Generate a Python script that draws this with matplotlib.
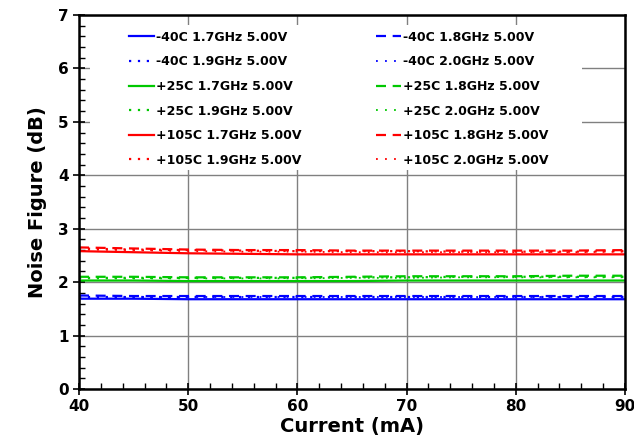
import matplotlib
matplotlib.use("Agg")
import matplotlib.pyplot as plt
from matplotlib.ticker import MultipleLocator
from matplotlib.patches import Rectangle

current = [40, 45, 50, 55, 60, 65, 70, 75, 80, 85, 90]

labels = [
    "-40C 1.7GHz 5.00V", "-40C 1.8GHz 5.00V", "-40C 1.9GHz 5.00V", "-40C 2.0GHz 5.00V",
    "+25C 1.7GHz 5.00V", "+25C 1.8GHz 5.00V", "+25C 1.9GHz 5.00V", "+25C 2.0GHz 5.00V",
    "+105C 1.7GHz 5.00V", "+105C 1.8GHz 5.00V", "+105C 1.9GHz 5.00V", "+105C 2.0GHz 5.00V",
]

m40_17 = [1.69, 1.69, 1.68, 1.68, 1.68, 1.68, 1.68, 1.68, 1.68, 1.68, 1.68]
m40_18 = [1.75, 1.74, 1.74, 1.74, 1.74, 1.74, 1.74, 1.74, 1.74, 1.74, 1.74]
m40_19 = [1.73, 1.73, 1.73, 1.73, 1.73, 1.73, 1.73, 1.73, 1.73, 1.73, 1.73]
m40_20 = [1.72, 1.72, 1.72, 1.72, 1.72, 1.72, 1.72, 1.72, 1.72, 1.72, 1.72]
p25_17 = [2.03, 2.03, 2.02, 2.02, 2.02, 2.02, 2.03, 2.03, 2.03, 2.03, 2.03]
p25_18 = [2.10, 2.10, 2.09, 2.09, 2.09, 2.10, 2.11, 2.11, 2.11, 2.12, 2.12]
p25_19 = [2.08, 2.08, 2.08, 2.08, 2.08, 2.09, 2.09, 2.10, 2.10, 2.10, 2.10]
p25_20 = [2.07, 2.07, 2.07, 2.07, 2.07, 2.08, 2.08, 2.09, 2.09, 2.09, 2.09]
p105_17 = [2.58, 2.56, 2.54, 2.53, 2.52, 2.52, 2.52, 2.52, 2.52, 2.52, 2.52]
p105_18 = [2.65, 2.63, 2.61, 2.60, 2.60, 2.59, 2.59, 2.59, 2.59, 2.59, 2.60]
p105_19 = [2.63, 2.61, 2.60, 2.59, 2.58, 2.58, 2.58, 2.57, 2.57, 2.57, 2.58]
p105_20 = [2.61, 2.60, 2.58, 2.57, 2.57, 2.56, 2.56, 2.56, 2.56, 2.56, 2.57]

series = [m40_17, m40_18, m40_19, m40_20, p25_17, p25_18, p25_19, p25_20,
          p105_17, p105_18, p105_19, p105_20]
colors = ["#0000ff"] * 4 + ["#00c800"] * 4 + ["#ff0000"] * 4
styles = ["solid", (0, (4.5, 3)), (0, (1, 3)), (0, (1, 4))] * 3

plt.rcParams['font.family'] = ['DejaVu Sans']
fig = plt.figure(figsize=(6.34, 4.47), dpi=100)
ax = fig.add_axes([0.1246, 0.1298, 0.861, 0.8366])

handles = []
for i, (ys, lab) in enumerate(zip(series, labels)):
    lw = 1.6 if i % 4 != 3 else 1.3
    h, = ax.plot(current, ys, color=colors[i], linestyle=styles[i], linewidth=lw, label=lab)
    handles.append(h)

ax.set_xlim(40, 90)
ax.set_ylim(0, 7)
ax.xaxis.set_major_locator(MultipleLocator(10))
ax.xaxis.set_minor_locator(MultipleLocator(2))
ax.yaxis.set_major_locator(MultipleLocator(1))
ax.yaxis.set_minor_locator(MultipleLocator(0.2))
ax.grid(True, which="major", color="#808080", linewidth=1.0)
ax.set_axisbelow(True)
ax.tick_params(which="major", direction="inout", length=8, width=1.2, labelsize=11)
ax.tick_params(which="minor", direction="in", length=4, width=1.0)
for lbl in ax.get_xticklabels() + ax.get_yticklabels():
    lbl.set_fontweight("bold")
for s in ax.spines.values():
    s.set_linewidth(1.8)
    s.set_color("black")

# white legend background area (hides gridlines behind the legend)
ax.add_patch(Rectangle((0.02, 0.586), 0.901, 0.387, transform=ax.transAxes,
                       facecolor="white", edgecolor="none", zorder=0.6))

ax.set_xlabel("Current (mA)", fontsize=14, fontweight="bold", labelpad=2)
ax.set_ylabel("Noise Figure (dB)", fontsize=14, fontweight="bold", labelpad=8)

order = [0, 2, 4, 6, 8, 10, 1, 3, 5, 7, 9, 11]
leg = ax.legend([handles[k] for k in order], [labels[k] for k in order],
                ncol=2, loc="upper left", bbox_to_anchor=(0.073, 0.985),
                frameon=False,
                prop={"weight": "bold", "size": 9}, handlelength=2.0,
                handletextpad=0.15, columnspacing=6.0, labelspacing=0.93,
                borderpad=0.3)

fig.savefig("out.png", dpi=100)
